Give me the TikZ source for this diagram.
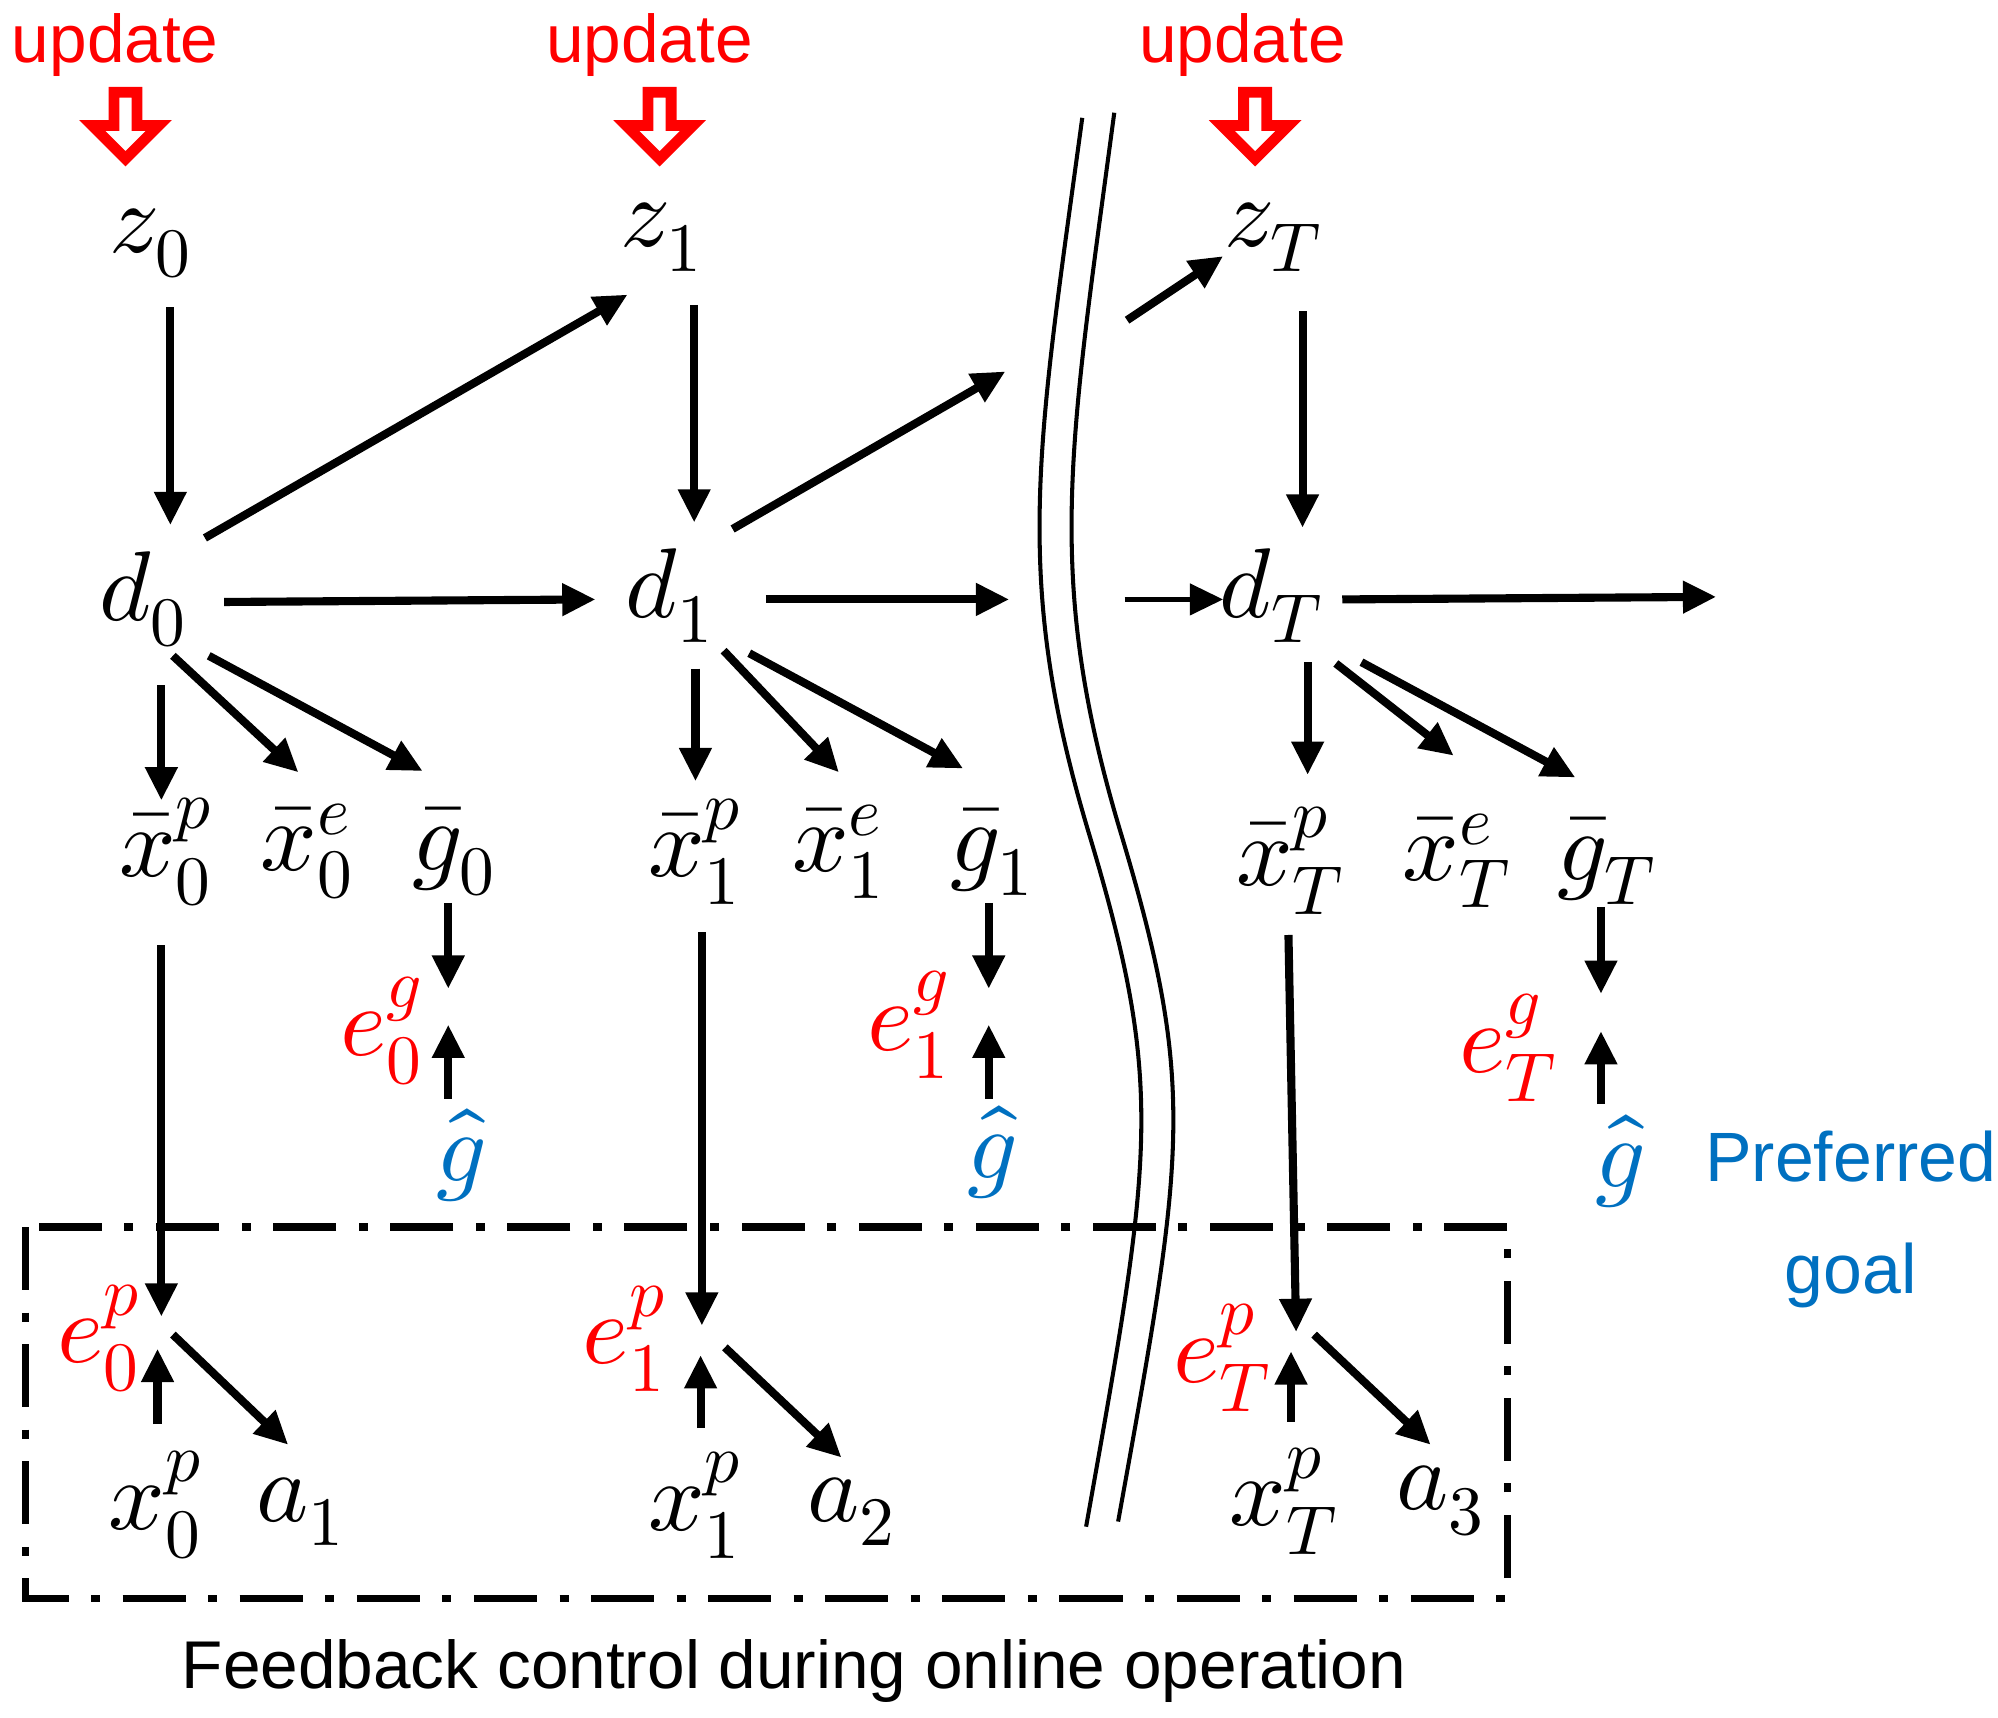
\documentclass[tikz,border=0pt]{standalone}
\usepackage{fontspec}
\setmainfont{Liberation Sans}
\usepackage{unicode-math}
\setmathfont{Latin Modern Math}
\usetikzlibrary{arrows.meta}
\definecolor{myred}{RGB}{255,0,0}
\definecolor{myblue}{RGB}{0,112,192}
\begin{document}
\begin{tikzpicture}[x=0.01cm,y=-0.01cm,
  m/.style={inner sep=0pt,font=\fontsize{22}{26}\selectfont},
  txt/.style={inner sep=0pt,font=\fontsize{15}{19}\selectfont,align=center},
  a/.style={line width=1.8pt,-{Triangle[length=0.26cm,width=0.24cm]}},
  upd/.style={draw=myred,fill=white,line width=2.4pt,line join=miter}]
\useasboundingbox (0,0) rectangle (1560,1341);
% updates
\foreach \n/\x/\ax in {u0/90/98,u1/507/515,uT/970/980}{
  \node[txt,text=myred] (\n) at (\x,35) {update};
  \draw[upd] (\ax-9,72) -- (\ax+9,72) -- (\ax+9,98) -- (\ax+26,98) -- (\ax,124) -- (\ax-26,98) -- (\ax-9,98) -- cycle;
}
% top nodes
\node[m] (z0) at (118,190) {$z_0$};
\node[m] (z1) at (517,185) {$z_1$};
\node[m] (zT) at (995,185) {$z_T$};
\node[m] (d0) at (112,468) {$d_0$};
\node[m] (d1) at (523,465) {$d_1$};
\node[m] (dT) at (993,465) {$d_T$};
\coordinate (b1) at (785,290);
\coordinate (b2) at (880,250);
\coordinate (b3) at (788,468);
\coordinate (b4) at (878,468);
\coordinate (b5) at (1340,466);
\draw[a] (133,240) -- (133,410);
\draw[a] (160,420) -- (490,230);
\draw[a] (542,238) -- (542,408);
\draw[a] (572,413) -- (b1);
\draw[a] (b2) -- (955,200);
\draw[a] (1017,243) -- (1017,412);
\draw[a] (175,470) -- (465,468);
\draw[a] (598,468) -- (b3);
\draw[line width=1.2pt,-{Triangle[length=0.26cm,width=0.24cm]}] (b4) -- (955,468);
\draw[a] (1048,468) -- (b5);
% middle
\node[m] (x0b) at (130,665) {$\bar{x}_0^p$};
\node[m] (e0b) at (240,665) {$\bar{x}_0^e$};
\node[m] (g0b) at (355,665) {$\bar{g}_0$};
\node[m] (x1b) at (543,665) {$\bar{x}_1^p$};
\node[m] (e1b) at (655,665) {$\bar{x}_1^e$};
\node[m] (g1b) at (775,665) {$\bar{g}_1$};
\node[m] (xTb) at (1008,672) {$\bar{x}_T^p$};
\node[m] (eTb) at (1138,672) {$\bar{x}_T^e$};
\node[m] (gTb) at (1255,672) {$\bar{g}_T$};
\draw[a] (126,535) -- (126,625);
\draw[a] (135,512) -- (233,603);
\draw[a] (163,512) -- (330,602);
\draw[a] (543,522) -- (543,610);
\draw[a] (565,508) -- (655,603);
\draw[a] (585,510) -- (752,600);
\draw[a] (1021,517) -- (1021,605);
\draw[a] (1043,518) -- (1135,590);
\draw[a] (1063,517) -- (1230,607);
% goal errors
\node[m,text=myred] (eg0) at (298,805) {$e_0^g$};
\node[m,text=myred] (eg1) at (710,800) {$e_1^g$};
\node[m,text=myred] (egT) at (1178,818) {$e_T^g$};
\node[m,text=myblue] (h0) at (360,902) {$\hat{g}$};
\node[m,text=myblue] (h1) at (775,900) {$\hat{g}$};
\node[m,text=myblue] (hT) at (1265,907) {$\hat{g}$};
\draw[a] (350,705) -- (350,772);
\draw[a] (350,858) -- (350,800);
\draw[a] (772,705) -- (772,772);
\draw[a] (772,858) -- (772,800);
\draw[a] (1250,708) -- (1250,776);
\draw[a] (1250,862) -- (1250,805);
\node[txt,text=myblue,font=\fontsize{15.5}{25}\selectfont] (pg) at (1445,952) {Preferred\\goal};
% bottom
\node[m,text=myred] (ep0) at (78,1045) {$e_0^p$};
\node[m,text=myred] (ep1) at (488,1045) {$e_1^p$};
\node[m,text=myred] (epT) at (955,1060) {$e_T^p$};
\node[m] (x0) at (122,1175) {$x_0^p$};
\node[m] (x1) at (543,1175) {$x_1^p$};
\node[m] (xT) at (1003,1172) {$x_T^p$};
\node[m] (a1) at (235,1180) {$a_1$};
\node[m] (a2) at (665,1180) {$a_2$};
\node[m] (a3) at (1125,1172) {$a_3$};
\draw[a] (126,738) -- (126,1028);
\draw[a] (548,728) -- (548,1035);
\draw[a] (1006,730) -- (1012,1040);
\draw[a] (123,1112) -- (123,1053);
\draw[a] (547,1115) -- (547,1058);
\draw[a] (1008,1110) -- (1008,1055);
\draw[a] (135,1042) -- (225,1128);
\draw[a] (566,1052) -- (657,1138);
\draw[a] (1026,1042) -- (1117,1128);
% box
\draw[line width=1.6pt,dash pattern=on 14pt off 5pt on 2pt off 5pt] (20,958) rectangle (1177,1248);
\node[txt] (cap) at (620,1305) {Feedback control during online operation};
% break
\draw[line width=0.9pt] (845,92) .. controls (810,350) and (790,450) .. (850,650) .. controls (910,850) and (900,900) .. (848,1192);
\draw[line width=0.9pt] (870,88) .. controls (835,350) and (815,450) .. (875,650) .. controls (935,850) and (925,900) .. (873,1188);
\end{tikzpicture}
\end{document}
